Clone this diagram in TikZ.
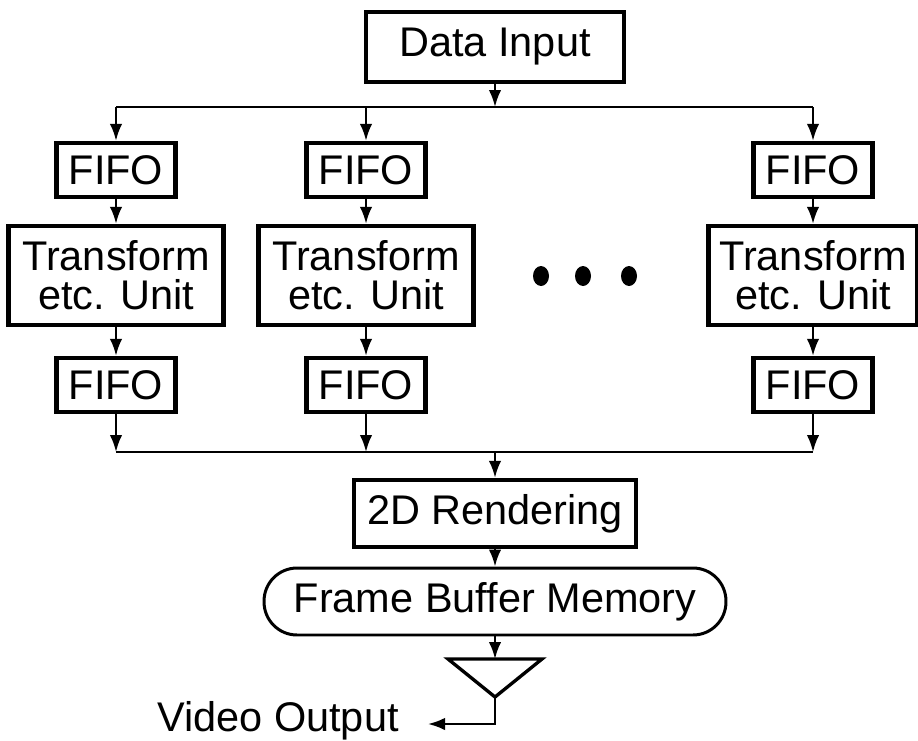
\documentclass[tikz,border=0pt]{standalone}
\usepackage{fontspec}
\setmainfont{Liberation Sans}
\usetikzlibrary{arrows.meta,positioning,calc}

\begin{document}
\begin{tikzpicture}[
    x=0.02cm, y=-0.02cm,
    % Block styles
    every node/.style={font=\fontsize{23.6}{22}\selectfont},
    plainblock/.style={
        rectangle,
        draw,
        line width=2.5pt,
        align=center,
        inner sep=0pt
    },
    fifoblock/.style={
        plainblock,
        minimum width=2.38cm,
        minimum height=1.08cm
    },
    unitblock/.style={
        plainblock,
        minimum width=4.3cm,
        minimum height=1.98cm
    },
    memblock/.style={
        rectangle,
        draw,
        line width=1.7pt,
        rounded corners=0.66cm,
        minimum width=9.24cm,
        minimum height=1.34cm,
        inner sep=0pt
    },
    line/.style={-{Latex[length=0.34cm,width=0.25cm]}, line width=1.3pt},
    busline/.style={line width=1.3pt}
]
\useasboundingbox (0,0) rectangle (918,740);

% Input
\node[plainblock, minimum width=5.16cm, minimum height=1.4cm] (datain) at (495,47) {Data Input};
\coordinate (splitin) at (495,107);

% Transform columns
\node[fifoblock] (fifoinA) at (116,170) {FIFO};
\node[unitblock] (unitA) at (116,275.5) {Transform\\etc. Unit};
\node[fifoblock] (fifooutA) at (116,385) {FIFO};

\node[fifoblock] (fifoinB) at (366,170) {FIFO};
\node[unitblock] (unitB) at (366,275.5) {Transform\\etc. Unit};
\node[fifoblock] (fifooutB) at (366,385) {FIFO};

\node[fifoblock] (fifoinD) at (813,170) {FIFO};
\node[unitblock, minimum width=4.18cm] (unitD) at (813,275.5) {Transform\\etc. Unit};
\node[fifoblock] (fifooutD) at (813,385) {FIFO};

% Ellipsis dots
\fill (541,276) ellipse [x radius=0.16cm, y radius=0.2cm];
\fill (583,276) ellipse [x radius=0.16cm, y radius=0.2cm];
\fill (629,276) ellipse [x radius=0.16cm, y radius=0.2cm];

% Output chain
\coordinate (mergeout) at (495,452);
\node[plainblock, minimum width=5.64cm, minimum height=1.34cm] (render) at (495,513.5) {2D Rendering};
\node[memblock] (fbm) at (495,601.5) {Frame Buffer Memory};

% Amplifier
\coordinate (ampin) at (495,659);
\coordinate (ampout) at (495,697);
\draw[line width=1.9pt, line join=miter] (448,659) -- (542,659) -- (ampout) -- cycle;
\node[anchor=east, inner sep=0pt] (video) at (399,721) {Video Output};

% Distribution bus
\draw[line] (datain) -- (splitin);
\draw[busline] (fifoinA.north |- splitin) -- (fifoinD.north |- splitin);
\draw[line] (fifoinA.north |- splitin) -- (fifoinA);
\draw[line] (fifoinB.north |- splitin) -- (fifoinB);
\draw[line] (fifoinD.north |- splitin) -- (fifoinD);

% Column connections
\draw[line] (fifoinA) -- (unitA);
\draw[line] (unitA) -- (fifooutA);
\draw[line] (fifoinB) -- (unitB);
\draw[line] (unitB) -- (fifooutB);
\draw[line] (fifoinD) -- (unitD);
\draw[line] (unitD) -- (fifooutD);

% Merge bus
\draw[line] (fifooutA) -- (fifooutA.south |- mergeout);
\draw[line] (fifooutB) -- (fifooutB.south |- mergeout);
\draw[line] (fifooutD) -- (fifooutD.south |- mergeout);
\draw[busline] (fifooutA.south |- mergeout) -- (fifooutD.south |- mergeout);
\draw[line] (mergeout) -- (render);

% To display
\draw[line] (render) -- (fbm);
\draw[line] (fbm) -- (ampin);
\draw[line] (ampout) |- ([xshift=0.58cm, yshift=-0.06cm]video.east);

\end{tikzpicture}
\end{document}
